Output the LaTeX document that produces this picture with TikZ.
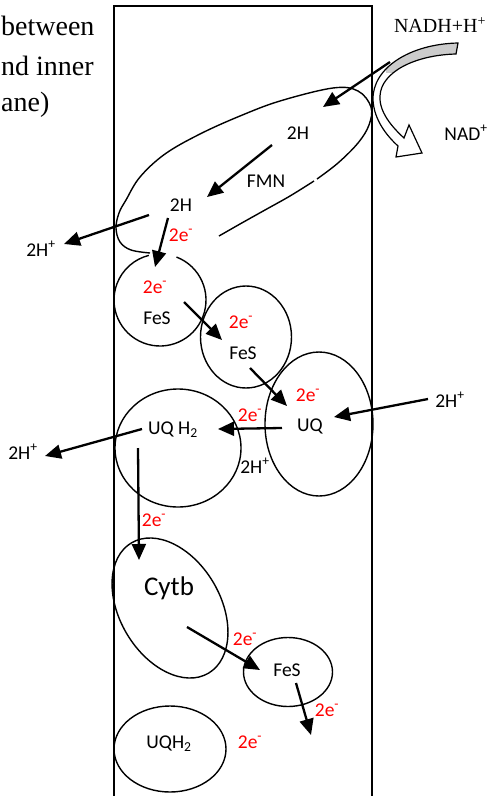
\documentclass[tikz,border=0pt]{standalone}
\usepackage{fontspec}
\setmainfont{Liberation Serif}
\newfontfamily\cfont{Carlito}
\usetikzlibrary{arrows.meta}
\definecolor{ered}{RGB}{255,0,0}
\newcommand\bentpath{(458,43) .. controls (410,44) and (372,68) .. (373,100) .. controls (374,120) and (387,136) .. (398,146) -- (396,157) -- (422,153) -- (409,125) -- (404,138) .. controls (392,127) and (379,112) .. (380,96) .. controls (381,72) and (415,55) .. (456,54) -- cycle}
\begin{document}
\begin{tikzpicture}[x=1pt,y=-1pt,
  shp/.style={line width=1.4pt},
  arr/.style={line width=2.3pt,-{Triangle[length=16pt,width=14pt]}},
  lb/.style={inner sep=0pt,font=\cfont\fontsize{19.5}{22}\selectfont},
  eL/.style={lb,text=ered},
  serif/.style={inner sep=0pt,font=\fontsize{28}{31}\selectfont,anchor=base west}]
\useasboundingbox (0,0) rectangle (489,796);
\fill[white] (0,0) rectangle (489,796);
% membrane
\draw[line width=1.8pt] (114,800) -- (114,6) -- (372,6) -- (372,800);
% text at left
\node[serif] (t1) at (1,35) {between};
\node[serif] (t2) at (1,75) {nd inner};
\node[serif] (t3) at (1,111) {ane)};
% FMN complex outline (open curve)
\draw[shp] plot[smooth,tension=0.6] coordinates {(150,253) (131,250) (120,242) (116,228) (119,213) (126,200) (140,177) (165,154) (200,134) (240,116) (280,101) (333,88) (358,91) (371,107) (369,125) (358,143) (338,163) (317,179)};
\draw[shp] plot[smooth,tension=0.6] coordinates {(314,181) (290,196) (265,210) (240,224) (219,236)};
% FeS 1 (gap at top)
\draw[shp] (160,300) ++(-69:46) arc[start angle=-69,end angle=256,radius=46];
% FeS 2
\draw[shp] (246,337) ellipse[x radius=45.5,y radius=51];
% UQ
\draw[shp] (319,424) ellipse[x radius=54,y radius=72];
% UQ H2
\draw[shp] (178,448) ellipse[x radius=63,y radius=59];
% Cytb
\draw[shp,rotate around={-59.4:(170,608)}] (170,608) ellipse[x radius=75.7,y radius=50.3];
% FeS 3
\draw[shp] (288,672) ellipse[x radius=44.5,y radius=34.5];
% UQH2 bottom
\draw[shp] (170,749) ellipse[x radius=56,y radius=43];
% NADH curved arrow
\fill[white] \bentpath;
\begin{scope}
\clip (386,30) rectangle (470,72);
\fill[gray!40] \bentpath;
\end{scope}
\draw[line width=1.2pt,line join=miter] \bentpath;
% labels
\node[font=\fontsize{20}{22}\selectfont,inner sep=0pt] (nadh) at (440,25) {NADH+H\textsuperscript{+}};
\node[lb] (nad) at (466,133) {NAD\textsuperscript{+}};
\node[lb] (h2a) at (298,133) {2H};
\node[lb] (fmn) at (266,181) {FMN};
\node[lb] (h2b) at (181,205) {2H};
\node[eL] (e1) at (181,235) {2e\textsuperscript{-}};
\node[lb] (hp1) at (41,249) {2H\textsuperscript{+}};
\node[eL] (e2) at (155,287) {2e\textsuperscript{-}};
\node[lb] (fes1) at (157,318) {FeS};
\node[eL] (e3) at (241,322) {2e\textsuperscript{-}};
\node[lb] (fes2) at (243,353) {FeS};
\node[eL] (e4) at (308,395) {2e\textsuperscript{-}};
\node[lb] (uq) at (310,426) {UQ};
\node[lb] (hp2) at (450,400) {2H\textsuperscript{+}};
\node[eL] (e5) at (250,415) {2e\textsuperscript{-}};
\node[lb] (hp3) at (255,466) {2H\textsuperscript{+}};
\node[lb] (uqh2) at (173,430) {UQ H\textsubscript{2}};
\node[lb] (hp4) at (23,452) {2H\textsuperscript{+}};
\node[eL] (e6) at (154,520) {2e\textsuperscript{-}};
\node[lb,font=\cfont\fontsize{27}{30}\selectfont] (cytb) at (169,588) {Cytb};
\node[eL] (e7) at (245,639) {2e\textsuperscript{-}};
\node[lb] (fes3) at (287,670) {FeS};
\node[eL] (e8) at (327,710) {2e\textsuperscript{-}};
\node[lb] (uqh2b) at (169,744) {UQH\textsubscript{2}};
\node[eL] (e9) at (250,742) {2e\textsuperscript{-}};
% arrow end points
\coordinate (a1s) at (390,62);  \coordinate (a1e) at (323,107);
\coordinate (a2s) at (272,145); \coordinate (a2e) at (207,197);
\coordinate (a3s) at (168,218); \coordinate (a3e) at (155,267);
\coordinate (a4s) at (149,215); \coordinate (a4e) at (64,244);
\coordinate (a5s) at (184,302); \coordinate (a5e) at (222,340);
\coordinate (a6s) at (250,368); \coordinate (a6e) at (287,406);
\coordinate (a7s) at (428,399); \coordinate (a7e) at (334,417);
\coordinate (a8s) at (282,428); \coordinate (a8e) at (218,429);
\coordinate (a9s) at (142,429); \coordinate (a9e) at (45,456);
\coordinate (a10s) at (138,448); \coordinate (a10e) at (139,560);
\coordinate (a11s) at (187,627); \coordinate (a11e) at (260,670);
\coordinate (a12s) at (296,683); \coordinate (a12e) at (311,735);
\foreach \i in {1,...,12} {\draw[arr] (a\i s) -- (a\i e);}
\end{tikzpicture}
\end{document}
